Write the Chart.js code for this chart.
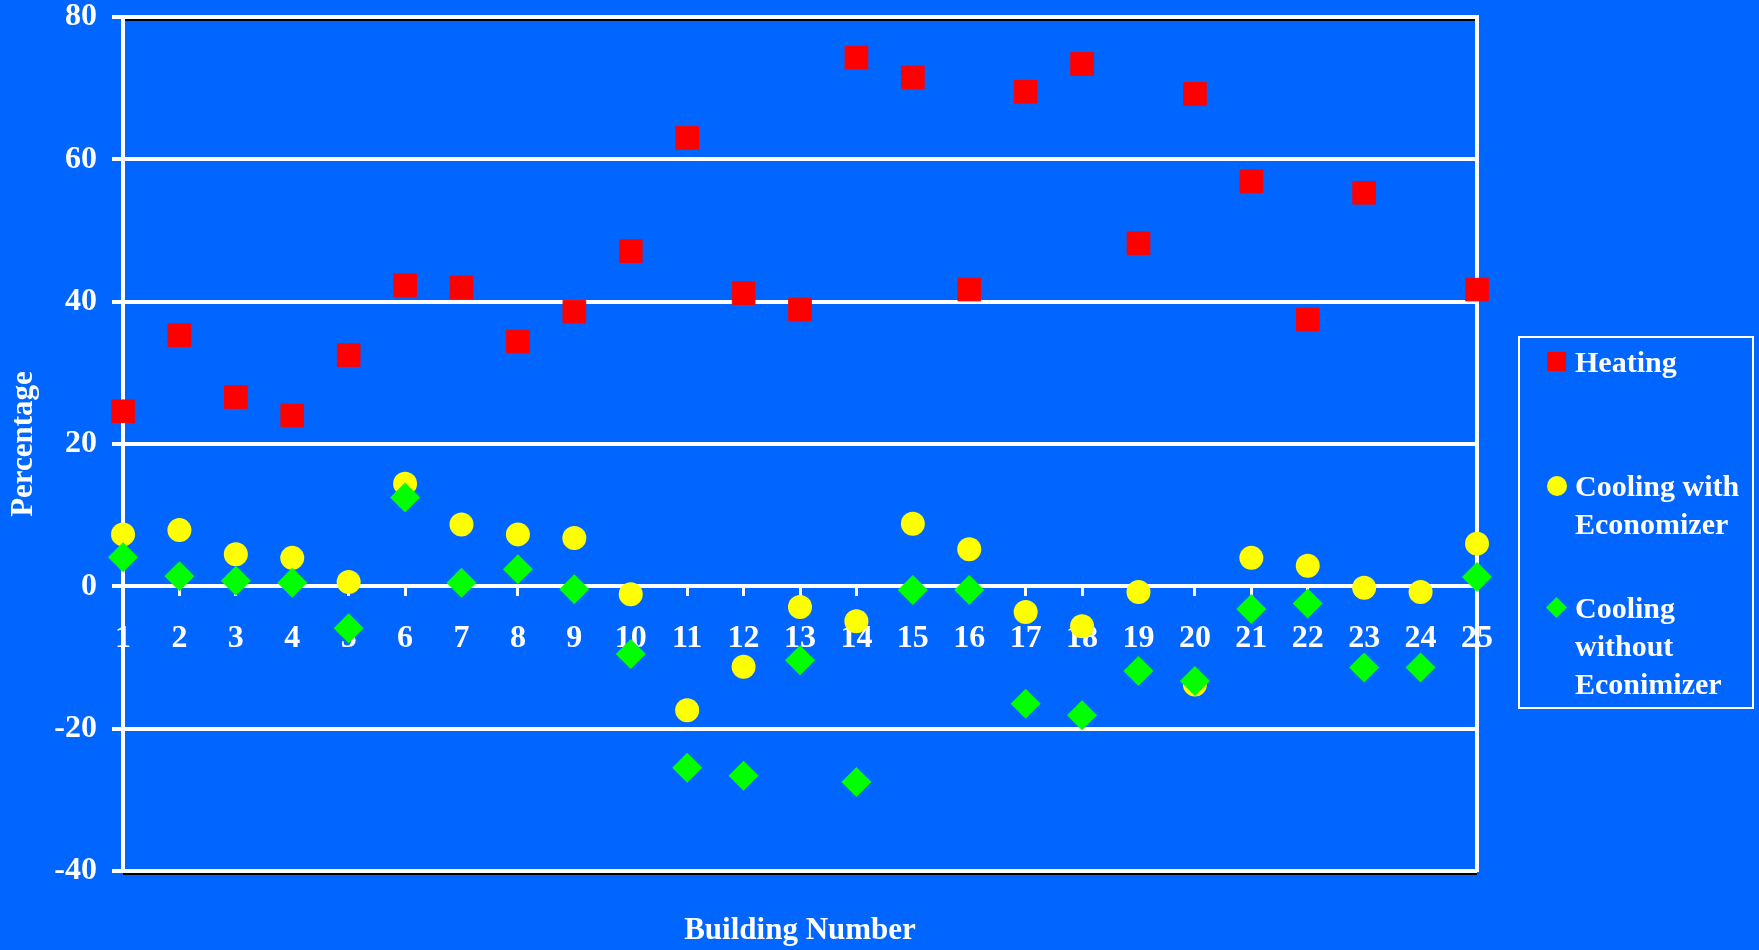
<!DOCTYPE html>
<html lang="en">
<head>
    <meta charset="UTF-8">
    <title>Building Number vs Percentage</title>
    <script src="https://cdn.jsdelivr.net/npm/chart.js"></script>
    <style>
        body {
            margin: 0;
            background: #0066FF;
            font-family: "Liberation Serif", "Times New Roman", serif;
        }
        .wrap {
            position: relative;
            width: 1759px;
            height: 950px;
        }
        .legend {
            position: absolute;
            left: 1518px;
            top: 336px;
            width: 232px;
            height: 369px;
            border: 2px solid #fff;
            color: #fff;
            font-weight: bold;
            font-size: 30px;
            line-height: 38px;
        }
        .item {
            position: absolute;
            left: 55px;
            white-space: nowrap;
        }
        .mark {
            position: absolute;
            left: -28px;
            top: 9px;
            width: 19px;
            height: 19px;
        }
        .sq { background: #FF0000; }
        .dot { background: #FFFF00; border-radius: 50%; width: 20px; height: 20px; }
        .dia { background: #00FF00; width: 15px; height: 15px; transform: rotate(45deg); left: -26px; top: 11px; }
    </style>
</head>
<body>
    <div class="wrap">
        <canvas id="chart" width="1759" height="950"></canvas>
        <div class="legend">
            <div class="item" style="top: 5px;"><span class="mark sq"></span>Heating</div>
            <div class="item" style="top: 129px;"><span class="mark dot"></span>Cooling with<br>Economizer</div>
            <div class="item" style="top: 251px;"><span class="mark dia"></span>Cooling<br>without<br>Econimizer</div>
        </div>
    </div>

    <script>
        // building numbers 1..25
        const buildings = [1, 2, 3, 4, 5, 6, 7, 8, 9, 10, 11, 12, 13, 14, 15, 16, 17, 18, 19, 20, 21, 22, 23, 24, 25];
        const heating = [24.6, 35.3, 26.6, 24.0, 32.5, 42.3, 42.0, 34.4, 38.6, 47.1, 63.0, 41.2, 38.9, 74.3, 71.5, 41.7, 69.5, 73.4, 48.2, 69.2, 56.9, 37.5, 55.3, null, 41.7];
        const coolingWith = [7.3, 7.9, 4.5, 4.0, 0.6, 14.4, 8.7, 7.3, 6.8, -1.1, -17.4, -11.3, -2.9, -4.9, 8.8, 5.2, -3.6, -5.6, -0.8, -13.8, 4.0, 2.9, -0.2, -0.8, 6.0];
        const coolingWithout = [4.1, 1.4, 0.8, 0.5, -5.9, 12.5, 0.5, 2.4, -0.4, -9.5, -25.5, -26.6, -10.4, -27.5, -0.5, -0.5, -16.5, -18.1, -11.9, -13.3, -3.2, -2.4, -11.4, -11.4, 1.3];
        const yTicks = [-40, -20, 0, 20, 40, 60, 80];

        const toPoints = vals => buildings.map((b, i) => ({ x: b, y: vals[i] })).filter(p => p.y !== null);

        const tickFont = { family: 'Liberation Serif', weight: 'bold', size: 32, lineHeight: 1 };
        const titleFont = { family: 'Liberation Serif', weight: 'bold', size: 31 };

        // black shadow under the top and bottom frame lines
        const frameShadow = {
            id: 'frameShadow',
            beforeDatasetsDraw(chart) {
                const a = chart.chartArea;
                const c = chart.ctx;
                c.save();
                c.strokeStyle = '#000';
                c.lineWidth = 2;
                c.beginPath();
                c.moveTo(a.left + 2, a.top + 3);
                c.lineTo(a.right - 2, a.top + 3);
                c.moveTo(a.left, a.bottom + 3);
                c.lineTo(a.right, a.bottom + 3);
                c.stroke();
                c.restore();
            }
        };

        new Chart(document.getElementById('chart'), {
            type: 'scatter',
            data: {
                datasets: [
                    {
                        label: 'Heating',
                        data: toPoints(heating),
                        pointStyle: 'rect',
                        pointRadius: 16,
                        pointHoverRadius: 16,
                        backgroundColor: '#FF0000',
                        borderColor: '#FF0000',
                        borderWidth: 1,
                        order: 3,
                        clip: false
                    },
                    {
                        label: 'Cooling with Economizer',
                        data: toPoints(coolingWith),
                        pointStyle: 'circle',
                        pointRadius: 12,
                        pointHoverRadius: 12,
                        backgroundColor: '#FFFF00',
                        borderColor: '#FFFF00',
                        borderWidth: 0,
                        order: 2,
                        clip: false
                    },
                    {
                        label: 'Cooling without Econimizer',
                        data: toPoints(coolingWithout),
                        pointStyle: 'rectRot',
                        pointRadius: 15,
                        pointHoverRadius: 15,
                        backgroundColor: '#00FF00',
                        borderColor: '#00FF00',
                        borderWidth: 0,
                        order: 1,
                        clip: false
                    }
                ]
            },
            options: {
                responsive: false,
                animation: false,
                layout: { padding: { top: 16, right: 282, bottom: 0, left: 0 } },
                plugins: {
                    legend: { display: false },
                    tooltip: { enabled: false }
                },
                scales: {
                    x: {
                        type: 'linear',
                        position: { y: 0 },
                        min: 1,
                        max: 25,
                        z: 1,
                        afterBuildTicks: s => { s.ticks = buildings.map(v => ({ value: v })); },
                        ticks: {
                            color: '#fff',
                            font: tickFont,
                            padding: 26,
                            autoSkip: false,
                            maxRotation: 0
                        },
                        grid: {
                            drawOnChartArea: false,
                            drawTicks: true,
                            tickLength: 10,
                            tickWidth: 3,
                            tickColor: '#fff'
                        },
                        border: { display: false }
                    },
                    x2: {
                        type: 'linear',
                        position: 'bottom',
                        min: 1,
                        max: 25,
                        ticks: { display: false },
                        grid: { display: false },
                        border: { display: false },
                        title: {
                            display: true,
                            text: 'Building Number',
                            color: '#fff',
                            font: titleFont,
                            padding: { top: 0, bottom: 0 }
                        },
                        afterFit: s => { s.height = 79; }
                    },
                    y: {
                        min: -40,
                        max: 80,
                        afterBuildTicks: s => { s.ticks = yTicks.map(v => ({ value: v })); },
                        ticks: {
                            color: '#fff',
                            font: tickFont,
                            padding: 15
                        },
                        grid: {
                            color: '#fff',
                            lineWidth: 4,
                            tickLength: 11,
                            tickWidth: 4,
                            tickColor: '#fff'
                        },
                        border: { color: '#fff', width: 4 },
                        title: {
                            display: true,
                            text: 'Percentage',
                            color: '#fff',
                            font: titleFont,
                            padding: { top: 5, bottom: 0 }
                        },
                        afterFit: s => {
                            s.width = 123;
                            s.paddingTop = 0;
                            s.paddingBottom = 0;
                        }
                    },
                    y2: {
                        position: 'right',
                        min: -40,
                        max: 80,
                        ticks: { display: false },
                        grid: { drawOnChartArea: false, drawTicks: false },
                        border: { color: '#fff', width: 4 },
                        afterFit: s => { s.width = 0; }
                    }
                }
            },
            plugins: [frameShadow]
        });
    </script>
</body>
</html>
